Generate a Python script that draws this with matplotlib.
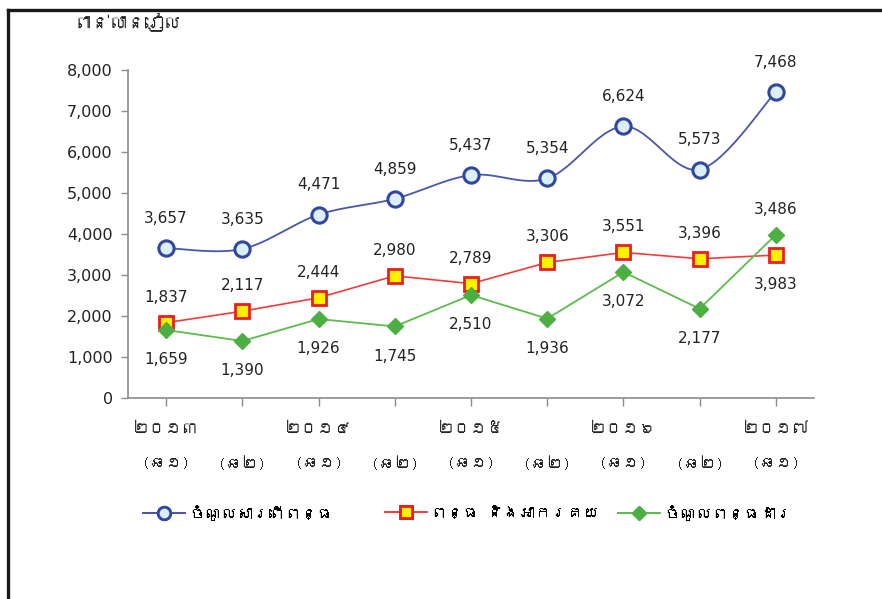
import numpy as np
import matplotlib
matplotlib.use("Agg")
import matplotlib.pyplot as plt
from matplotlib import font_manager
from matplotlib.lines import Line2D

# ---------------- data ----------------
periods = ["(ឆ១)", "(ឆ២)", "(ឆ១)", "(ឆ២)", "(ឆ១)", "(ឆ២)", "(ឆ១)", "(ឆ២)", "(ឆ១)"]
years = ["២០១៣", "២០១៤", "២០១៥", "២០១៦", "២០១៧"]
current_revenue = [3657, 3635, 4471, 4859, 5437, 5354, 6624, 5573, 7468]
tax_revenue = [1837, 2117, 2444, 2980, 2789, 3306, 3551, 3396, 3486]
domestic_tax = [1659, 1390, 1926, 1745, 2510, 1936, 3072, 2177, 3983]
series_names = ["ចំណូលសារពើពន្ធ", "ពន្ធ និងអាករគយ", "ចំណូលពន្ធដារ"]
unit_label = "ពាន់លានរៀល"
yticks = [0, 1000, 2000, 3000, 4000, 5000, 6000, 7000, 8000]

# ---------------- fonts ----------------
def find_khmer_font():
    try:
        from fontTools.ttLib import TTFont
    except Exception:
        return None
    seen = set()
    for f in font_manager.fontManager.ttflist:
        if f.fname in seen:
            continue
        seen.add(f.fname)
        try:
            tt = TTFont(f.fname, fontNumber=0, lazy=True)
            cmap = tt.getBestCmap()
            if cmap and 0x1780 in cmap and 0x17E0 in cmap:
                return f.name
        except Exception:
            pass
    return None

kh = find_khmer_font()
fam = ([kh] if kh else []) + ["DejaVu Sans"]
plt.rcParams["font.family"] = fam

# ---------------- figure ----------------
W, H = 882, 599
fig = plt.figure(figsize=(W / 100, H / 100), dpi=100)
ax = fig.add_axes([128 / W, 1 - 398 / H, (814 - 128) / W, (398 - 70) / H])

x = np.arange(len(current_revenue))

def catmull(xs, ys, n=30):
    xs = np.asarray(xs, float); ys = np.asarray(ys, float)
    P = np.column_stack([xs, ys])
    P = np.vstack([P[0], P, P[-1]])
    out = []
    for i in range(1, len(P) - 2):
        p0, p1, p2, p3 = P[i - 1], P[i], P[i + 1], P[i + 2]
        t = np.linspace(0, 1, n)[:, None]
        c = 0.5 * ((2 * p1) + (-p0 + p2) * t + (2 * p0 - 5 * p1 + 4 * p2 - p3) * t ** 2
                   + (-p0 + 3 * p1 - 3 * p2 + p3) * t ** 3)
        out.append(c if i == len(P) - 3 else c[:-1])
    c = np.vstack(out)
    return c[:, 0], c[:, 1]

blue_line = "#4A56A8"
sx, sy = catmull(x, current_revenue)
ax.plot(sx, sy, color=blue_line, lw=1.3, zorder=3)
ax.plot(x, current_revenue, ls="none", marker="o", ms=11, mfc="#DCEEF6",
        mec="#3048A0", mew=2.2, zorder=5)
ax.plot(x, tax_revenue, color="#F03C3C", lw=1.2, marker="s", ms=10,
        mfc="#FFF200", mec="#EE1C1C", mew=2.0, zorder=4)
ax.plot(x, domestic_tax, color="#5DBB4E", lw=1.3, marker="D", ms=8.5,
        mfc="#4DAF42", mec="#4DAF42", zorder=4)

lab_kw = dict(ha="center", fontsize=11, color="#222222", family=["DejaVu Sans"])
for xi, v in zip(x, current_revenue):
    ax.annotate(f"{v:,}", (xi, v), xytext=(0, 16), textcoords="offset points", va="bottom", **lab_kw)
for xi, r, g in zip(x, tax_revenue, domestic_tax):
    ax.annotate(f"{r:,}", (xi, max(r, g)), xytext=(0, 13), textcoords="offset points", va="bottom", **lab_kw)
    ax.annotate(f"{g:,}", (xi, min(r, g)), xytext=(0, -16), textcoords="offset points", va="top", **lab_kw)

ax.set_xlim(-0.5, len(x) - 0.5)
ax.set_ylim(0, 8000)
ax.set_yticks(yticks)
ax.set_yticklabels([f"{t:,}" for t in yticks], fontsize=11.5, family=["DejaVu Sans"], color="#222222")
ax.set_xticks(x)
ax.set_xticklabels([])
for s in ["top", "right"]:
    ax.spines[s].set_visible(False)
for s in ["left", "bottom"]:
    ax.spines[s].set_color("#8C8C8C")
    ax.spines[s].set_linewidth(1.2)
ax.tick_params(axis="both", direction="out", color="#8C8C8C", width=1.0, length=5)
ax.tick_params(axis="x", length=6)
ax.tick_params(axis="y", pad=6)

xt = ax.get_xaxis_transform()
for i, yl in enumerate(years):
    ax.text(2 * i, -0.095, yl, transform=xt, ha="center", va="center", fontsize=12, color="#222222")
for i, p in enumerate(periods):
    ax.text(i, -0.200, p, transform=xt, ha="center", va="center", fontsize=11.5, color="#222222")

fig.text(128 / W, 1 - 22 / H, unit_label, ha="center", va="center", fontsize=13, color="#222222")

handles = [
    Line2D([], [], color=blue_line, lw=1.3, marker="o", ms=9, mfc="#DCEEF6", mec="#3048A0", mew=2),
    Line2D([], [], color="#F03C3C", lw=1.2, marker="s", ms=9, mfc="#FFF200", mec="#EE1C1C", mew=2),
    Line2D([], [], color="#5DBB4E", lw=1.3, marker="D", ms=7, mfc="#4DAF42", mec="#4DAF42"),
]
leg_x = [143, 385, 618]
for h, name, lx in zip(handles, series_names, leg_x):
    lg = fig.legend([h], [name], loc="center left", bbox_to_anchor=(lx / W, 1 - 513 / H),
                    frameon=False, fontsize=11.5, handlelength=2.6, handletextpad=0.3,
                    borderpad=0, borderaxespad=0)
    fig.add_artist(lg)

# outer frame
fig.add_artist(Line2D([8 / W, 1], [1 - 10 / H, 1 - 10 / H], transform=fig.transFigure, color="#1A1A1A", lw=2.4))
fig.add_artist(Line2D([8 / W, 8 / W], [1 - 10 / H, 0], transform=fig.transFigure, color="#1A1A1A", lw=2.4))

fig.savefig("out.png", dpi=100, facecolor="white")
